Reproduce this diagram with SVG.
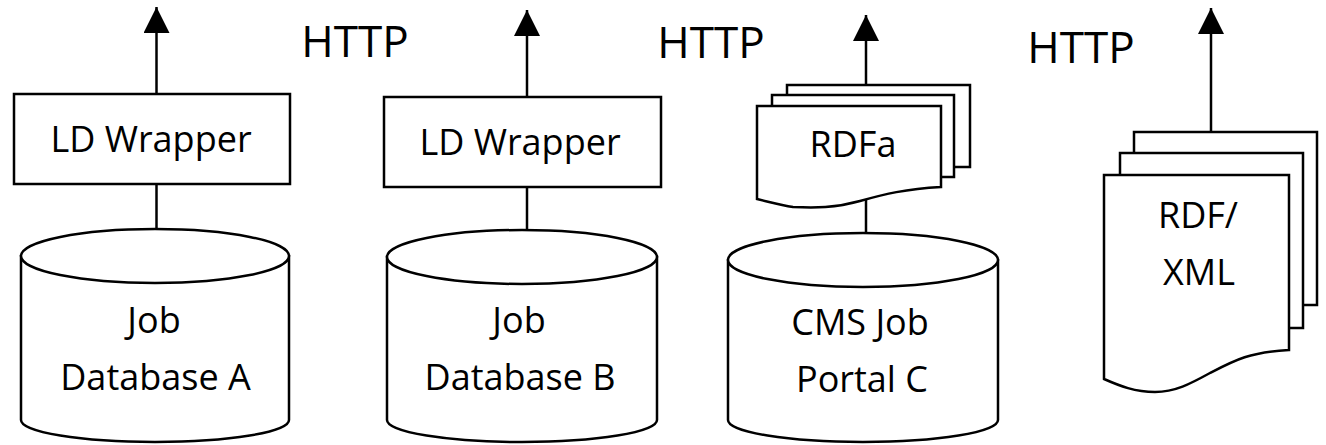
<svg xmlns="http://www.w3.org/2000/svg" width="1326" height="445" viewBox="0 0 1326 445">
<defs>
<style>
.s{fill:#fff;stroke:#000;stroke-width:2.5;stroke-linejoin:miter}
.c{fill:none;stroke:#000;stroke-width:2.5}
.t{font-family:"Open Sans",Lato,sans-serif;font-size:36px;fill:#000;text-anchor:middle}
.h{font-family:"Open Sans",Lato,sans-serif;font-size:44px;fill:#000;text-anchor:middle}
</style>
<marker id="ah" markerUnits="userSpaceOnUse" markerWidth="26" markerHeight="26" viewBox="0 0 26 26" refX="26" refY="13" orient="auto">
<path d="M0,0 L26,13 L0,26 z" fill="#000"/>
</marker>
</defs>
<rect width="1326" height="445" fill="#fff"/>
<g id="connectors">
<line class="c" x1="156.5" y1="94" x2="156.5" y2="7" marker-end="url(#ah)"/>
<line class="c" x1="156.5" y1="184" x2="156.5" y2="229"/>
<line class="c" x1="527" y1="97" x2="527" y2="10" marker-end="url(#ah)"/>
<line class="c" x1="527" y1="187" x2="527" y2="230"/>
<line class="c" x1="866" y1="85" x2="866" y2="15" marker-end="url(#ah)"/>
<line class="c" x1="866" y1="195" x2="866" y2="233"/>
<line class="c" x1="1211" y1="132" x2="1211" y2="8" marker-end="url(#ah)"/>
</g>
<g id="labels">
<text class="h" x="355" y="57">HTTP</text>
<text class="h" x="711" y="58">HTTP</text>
<text class="h" x="1081" y="63">HTTP</text>
</g>
<g id="wrapperA">
<rect class="s" x="14" y="94" width="276" height="90"/>
<text class="t" x="151" y="152">LD Wrapper</text>
</g>
<g id="wrapperB">
<rect class="s" x="384" y="97" width="277" height="90"/>
<text class="t" x="520" y="155">LD Wrapper</text>
</g>
<g id="dbA">
<path class="s" d="M21,256 L21,420 A134,22 0 0 0 289,420 L289,256 Z"/>
<ellipse class="s" cx="155" cy="256" rx="134" ry="27"/>
<text class="t" x="154" y="333">Job</text>
<text class="t" x="155.5" y="390">Database A</text>
</g>
<g id="dbB">
<path class="s" d="M387,257 L387,420 A135,22 0 0 0 657,420 L657,257 Z"/>
<ellipse class="s" cx="522" cy="257" rx="135" ry="27"/>
<text class="t" x="519" y="333">Job</text>
<text class="t" x="520" y="390">Database B</text>
</g>
<g id="rdfa">
<rect class="s" x="787" y="85" width="183" height="82"/>
<rect class="s" x="772" y="95" width="182" height="82"/>
<path class="s" d="M757,106 L941,106 L941,187 C905,189 885,194 860,201 C835,208 815,208 793,207 C780,205 770,202 757,199 Z"/>
<text class="t" x="853" y="157">RDFa</text>
</g>
<g id="dbC">
<path class="s" d="M728,260 L728,420 A135,22 0 0 0 998,420 L998,260 Z"/>
<ellipse class="s" cx="863" cy="260" rx="135" ry="27"/>
<text class="t" x="860" y="335">CMS Job</text>
<text class="t" x="862" y="392">Portal C</text>
</g>
<g id="rdfxml">
<rect class="s" x="1134" y="132" width="183" height="173"/>
<rect class="s" x="1120" y="153" width="183" height="175"/>
<path class="s" d="M1104,175 L1289,175 L1289,350 C1250,352 1235,360 1210,373 C1190,384 1175,392 1155,392 C1135,392 1120,386 1104,379 Z"/>
<text class="t" x="1198" y="228">RDF/</text>
<text class="t" x="1199" y="285">XML</text>
</g>
</svg>
